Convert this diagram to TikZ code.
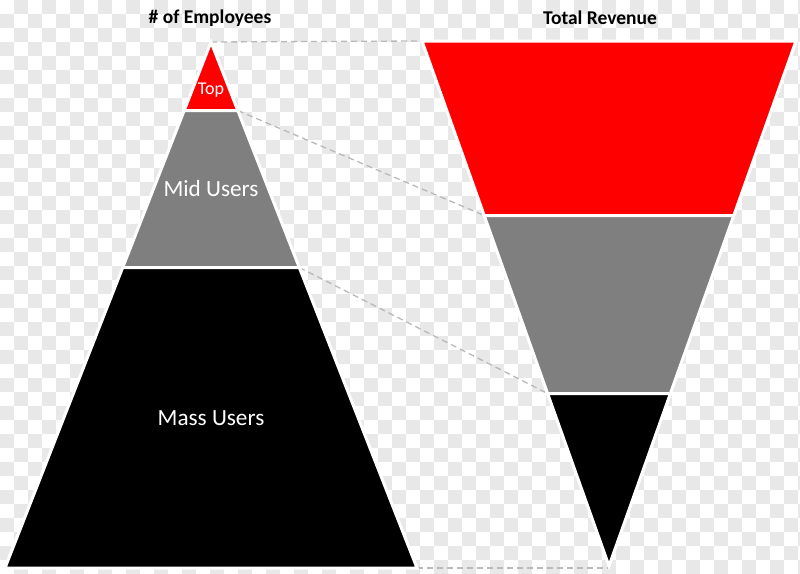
\documentclass[tikz,border=0pt]{standalone}
\usepackage{fontspec}
\setmainfont{Carlito}
\definecolor{checkgray}{RGB}{232,232,232}
\definecolor{bandred}{RGB}{255,0,0}
\definecolor{bandgray}{RGB}{127,127,127}
\definecolor{dashgray}{RGB}{185,185,185}
\begin{document}
\begin{tikzpicture}[x=1pt,y=-1pt,
  band/.style={draw=white,line width=3pt,line join=miter},
  guide/.style={draw=dashgray,line width=1.3pt,dash pattern=on 6pt off 4pt},
  title/.style={font=\fontsize{19.5}{21}\selectfont\bfseries,text=black,inner sep=0pt},
  bandlabel/.style={font=\fontsize{23.2}{25}\selectfont,text=white,inner sep=0pt},
  toplabel/.style={font=\fontsize{18}{20}\selectfont,text=white,inner sep=0pt}]
\useasboundingbox (0,0) rectangle (800,573);
% checkerboard background
\fill[white] (0,0) rectangle (800,573);
\begin{scope}
\clip (0,0) rectangle (800,573);
\foreach \i in {0,...,28}{
  \foreach \j in {0,...,20}{
    \fill[checkgray] (\i*28+14,\j*28) rectangle ++(14,14);
    \fill[checkgray] (\i*28,\j*28+14) rectangle ++(14,14);
  }
}
\end{scope}
% left pyramid corners
\coordinate (LA) at (211,42);
\coordinate (L1l) at (184.2,110.5);
\coordinate (L1r) at (237.8,110.5);
\coordinate (L2l) at (122.7,267.5);
\coordinate (L2r) at (299.3,267.5);
\coordinate (LBl) at (5,568);
\coordinate (LBr) at (417,568);
% right funnel corners
\coordinate (RTl) at (422,41);
\coordinate (RTr) at (796,41);
\coordinate (R1l) at (484.2,215.5);
\coordinate (R1r) at (733.8,215.5);
\coordinate (R2l) at (547.6,393.5);
\coordinate (R2r) at (670.4,393.5);
\coordinate (RA) at (609,566);
% guides
\draw[guide] (LA) -- (RTl);
\draw[guide] (L1r) -- (R1l);
\draw[guide] (L2r) -- (R2l);
\draw[guide] (LBr) -- (RA |- LBr);
% left bands
\path[band,fill=bandred] (LA) -- (L1r) -- (L1l) -- cycle;
\path[band,fill=bandgray] (L1l) -- (L1r) -- (L2r) -- (L2l) -- cycle;
\path[band,fill=black] (L2l) -- (L2r) -- (LBr) -- (LBl) -- cycle;
% right bands
\path[band,fill=bandred] (RTl) -- (RTr) -- (R1r) -- (R1l) -- cycle;
\path[band,fill=bandgray] (R1l) -- (R1r) -- (R2r) -- (R2l) -- cycle;
\path[band,fill=black] (R2l) -- (R2r) -- (RA) -- cycle;
% labels
\node[title] (emp) at (210,18) {\# of Employees};
\node[title] (rev) at (600,18) {Total Revenue};
\node[toplabel] (top) at (211,90) {Top};
\node[bandlabel] (mid) at (211,189) {Mid Users};
\node[bandlabel] (mass) at (211,418) {Mass Users};
\end{tikzpicture}
\end{document}
